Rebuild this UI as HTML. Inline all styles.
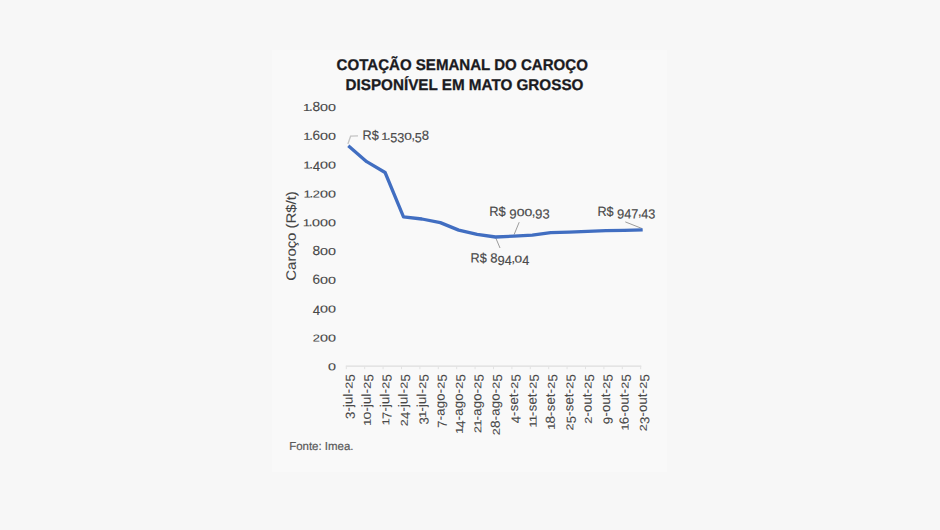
<!DOCTYPE html>
<html lang="pt-BR"><head><meta charset="utf-8"><title>Cotação semanal do caroço</title>
<style>
html,body{margin:0;padding:0;background:#f7f7f7;}
body{width:940px;height:530px;overflow:hidden;font-family:"Liberation Sans",sans-serif;}
svg{display:block;font-family:"Liberation Sans",sans-serif;}
.ttl{font-weight:bold;font-size:15.5px;fill:#1b1b1f;stroke:#1b1b1f;stroke-width:0.3px;}
.ax{fill:#484848;stroke:#484848;stroke-width:0.1px;}
.dl{fill:#4a4a4a;stroke:#4a4a4a;stroke-width:0.16px;}
.yt{font-size:13.6px;fill:#434343;stroke:#434343;stroke-width:0.08px;}
.src{font-size:11.5px;fill:#5a5a5a;stroke:#5a5a5a;stroke-width:0.2px;}
</style></head><body>
<svg width="940" height="530" viewBox="0 0 940 530">
<rect x="0" y="0" width="940" height="530" fill="#f7f7f7"/>
<rect x="272" y="50" width="395" height="422" fill="#f9f9f9"/>
<text class="ttl" transform="translate(336.6,70.0) rotate(0.03)" textLength="251.3" lengthAdjust="spacingAndGlyphs">COTAÇÃO SEMANAL DO CAROÇO</text>
<text class="ttl" transform="translate(345.5,90.0) rotate(0.03)" textLength="237.9" lengthAdjust="spacingAndGlyphs">DISPONÍVEL EM MATO GROSSO</text>
<g class="ax" font-size="13.3" transform="translate(336.00,370.20) rotate(0.03) translate(-7.98,0) scale(1.0000,1)"><text font-size="10.11" transform="translate(0.00,0) scale(1.4195,1)">0</text></g>
<g class="ax" font-size="13.3" transform="translate(336.00,341.40) rotate(0.03) translate(-23.14,0) scale(1.0000,1)"><text font-size="10.11" transform="translate(0.00,0) scale(1.2776,1)">2</text><text font-size="10.11" transform="translate(7.18,0) scale(1.4195,1)">0</text><text font-size="10.11" transform="translate(15.16,0) scale(1.4195,1)">0</text></g>
<g class="ax" font-size="13.3" transform="translate(336.00,312.60) rotate(0.03) translate(-23.36,0) scale(1.0000,1)"><text transform="translate(0.00,2.46) scale(1.0000,1)">4</text><text font-size="10.11" transform="translate(7.40,0) scale(1.4195,1)">0</text><text font-size="10.11" transform="translate(15.38,0) scale(1.4195,1)">0</text></g>
<g class="ax" font-size="13.3" transform="translate(336.00,283.80) rotate(0.03) translate(-23.54,0) scale(1.0000,1)"><text transform="translate(0.00,0) scale(1.0249,1)">6</text><text font-size="10.11" transform="translate(7.58,0) scale(1.4195,1)">0</text><text font-size="10.11" transform="translate(15.56,0) scale(1.4195,1)">0</text></g>
<g class="ax" font-size="13.3" transform="translate(336.00,255.00) rotate(0.03) translate(-23.61,0) scale(1.0000,1)"><text transform="translate(0.00,0) scale(1.0339,1)">8</text><text font-size="10.11" transform="translate(7.65,0) scale(1.4195,1)">0</text><text font-size="10.11" transform="translate(15.63,0) scale(1.4195,1)">0</text></g>
<g class="ax" font-size="13.3" transform="translate(336.00,226.20) rotate(0.03) translate(-32.19,0) scale(1.0000,1)"><text font-size="10.11" transform="translate(-1.04,0) scale(1.3158,1)">1</text><text transform="translate(4.94,0) scale(1.0000,1)">.</text><text font-size="10.11" transform="translate(8.25,0) scale(1.4195,1)">0</text><text font-size="10.11" transform="translate(16.23,0) scale(1.4195,1)">0</text><text font-size="10.11" transform="translate(24.21,0) scale(1.4195,1)">0</text></g>
<g class="ax" font-size="13.3" transform="translate(336.00,197.40) rotate(0.03) translate(-31.39,0) scale(1.0000,1)"><text font-size="10.11" transform="translate(-1.04,0) scale(1.3158,1)">1</text><text transform="translate(4.94,0) scale(1.0000,1)">.</text><text font-size="10.11" transform="translate(8.25,0) scale(1.2776,1)">2</text><text font-size="10.11" transform="translate(15.43,0) scale(1.4195,1)">0</text><text font-size="10.11" transform="translate(23.41,0) scale(1.4195,1)">0</text></g>
<g class="ax" font-size="13.3" transform="translate(336.00,168.60) rotate(0.03) translate(-31.60,0) scale(1.0000,1)"><text font-size="10.11" transform="translate(-1.04,0) scale(1.3158,1)">1</text><text transform="translate(4.94,0) scale(1.0000,1)">.</text><text transform="translate(8.25,2.46) scale(1.0000,1)">4</text><text font-size="10.11" transform="translate(15.64,0) scale(1.4195,1)">0</text><text font-size="10.11" transform="translate(23.62,0) scale(1.4195,1)">0</text></g>
<g class="ax" font-size="13.3" transform="translate(336.00,139.80) rotate(0.03) translate(-31.79,0) scale(1.0000,1)"><text font-size="10.11" transform="translate(-1.04,0) scale(1.3158,1)">1</text><text transform="translate(4.94,0) scale(1.0000,1)">.</text><text transform="translate(8.25,0) scale(1.0249,1)">6</text><text font-size="10.11" transform="translate(15.83,0) scale(1.4195,1)">0</text><text font-size="10.11" transform="translate(23.81,0) scale(1.4195,1)">0</text></g>
<g class="ax" font-size="13.3" transform="translate(336.00,111.00) rotate(0.03) translate(-31.85,0) scale(1.0000,1)"><text font-size="10.11" transform="translate(-1.04,0) scale(1.3158,1)">1</text><text transform="translate(4.94,0) scale(1.0000,1)">.</text><text transform="translate(8.25,0) scale(1.0339,1)">8</text><text font-size="10.11" transform="translate(15.89,0) scale(1.4195,1)">0</text><text font-size="10.11" transform="translate(23.87,0) scale(1.4195,1)">0</text></g>
<line x1="345.8" y1="366.2" x2="641.3" y2="366.2" stroke="#dddddd" stroke-width="1.2"/>
<line x1="346.3" y1="366.2" x2="346.3" y2="369.2" stroke="#e2e2e2" stroke-width="1"/>
<line x1="364.7" y1="366.2" x2="364.7" y2="369.2" stroke="#e2e2e2" stroke-width="1"/>
<line x1="383.1" y1="366.2" x2="383.1" y2="369.2" stroke="#e2e2e2" stroke-width="1"/>
<line x1="401.5" y1="366.2" x2="401.5" y2="369.2" stroke="#e2e2e2" stroke-width="1"/>
<line x1="419.9" y1="366.2" x2="419.9" y2="369.2" stroke="#e2e2e2" stroke-width="1"/>
<line x1="438.3" y1="366.2" x2="438.3" y2="369.2" stroke="#e2e2e2" stroke-width="1"/>
<line x1="456.7" y1="366.2" x2="456.7" y2="369.2" stroke="#e2e2e2" stroke-width="1"/>
<line x1="475.1" y1="366.2" x2="475.1" y2="369.2" stroke="#e2e2e2" stroke-width="1"/>
<line x1="493.5" y1="366.2" x2="493.5" y2="369.2" stroke="#e2e2e2" stroke-width="1"/>
<line x1="511.9" y1="366.2" x2="511.9" y2="369.2" stroke="#e2e2e2" stroke-width="1"/>
<line x1="530.3" y1="366.2" x2="530.3" y2="369.2" stroke="#e2e2e2" stroke-width="1"/>
<line x1="548.7" y1="366.2" x2="548.7" y2="369.2" stroke="#e2e2e2" stroke-width="1"/>
<line x1="567.1" y1="366.2" x2="567.1" y2="369.2" stroke="#e2e2e2" stroke-width="1"/>
<line x1="585.5" y1="366.2" x2="585.5" y2="369.2" stroke="#e2e2e2" stroke-width="1"/>
<line x1="603.9" y1="366.2" x2="603.9" y2="369.2" stroke="#e2e2e2" stroke-width="1"/>
<line x1="622.3" y1="366.2" x2="622.3" y2="369.2" stroke="#e2e2e2" stroke-width="1"/>
<line x1="640.7" y1="366.2" x2="640.7" y2="369.2" stroke="#e2e2e2" stroke-width="1"/>
<g class="ax" font-size="13" transform="translate(352.40,374.30) rotate(-90.03) translate(-44.68,0) scale(1.0000,1)"><text transform="translate(0.00,2.40) scale(1.0000,1)">3</text><text x="7.45" y="0" letter-spacing="0.22">-jul-</text><text font-size="9.88" transform="translate(30.21,0) scale(1.2776,1)">2</text><text transform="translate(37.45,2.40) scale(1.0000,1)">5</text></g>
<g class="ax" font-size="13" transform="translate(370.80,374.30) rotate(-90.03) translate(-50.67,0) scale(1.0000,1)"><text font-size="9.88" transform="translate(-1.02,0) scale(1.3158,1)">1</text><text font-size="9.88" transform="translate(5.42,0) scale(1.4195,1)">0</text><text x="13.44" y="0" letter-spacing="0.22">-jul-</text><text font-size="9.88" transform="translate(36.20,0) scale(1.2776,1)">2</text><text transform="translate(43.44,2.40) scale(1.0000,1)">5</text></g>
<g class="ax" font-size="13" transform="translate(389.20,374.30) rotate(-90.03) translate(-50.10,0) scale(1.0000,1)"><text font-size="9.88" transform="translate(-1.02,0) scale(1.3158,1)">1</text><text transform="translate(5.42,2.40) scale(1.0000,1)">7</text><text x="12.87" y="0" letter-spacing="0.22">-jul-</text><text font-size="9.88" transform="translate(35.63,0) scale(1.2776,1)">2</text><text transform="translate(42.87,2.40) scale(1.0000,1)">5</text></g>
<g class="ax" font-size="13" transform="translate(407.60,374.30) rotate(-90.03) translate(-51.92,0) scale(1.0000,1)"><text font-size="9.88" transform="translate(0.00,0) scale(1.2776,1)">2</text><text transform="translate(7.24,2.40) scale(1.0000,1)">4</text><text x="14.69" y="0" letter-spacing="0.22">-jul-</text><text font-size="9.88" transform="translate(37.45,0) scale(1.2776,1)">2</text><text transform="translate(44.69,2.40) scale(1.0000,1)">5</text></g>
<g class="ax" font-size="13" transform="translate(426.00,374.30) rotate(-90.03) translate(-50.10,0) scale(1.0000,1)"><text transform="translate(0.00,2.40) scale(1.0000,1)">3</text><text font-size="9.88" transform="translate(6.44,0) scale(1.3158,1)">1</text><text x="12.87" y="0" letter-spacing="0.22">-jul-</text><text font-size="9.88" transform="translate(35.63,0) scale(1.2776,1)">2</text><text transform="translate(42.87,2.40) scale(1.0000,1)">5</text></g>
<g class="ax" font-size="13" transform="translate(444.40,374.30) rotate(-90.03) translate(-53.37,0) scale(1.0000,1)"><text transform="translate(0.00,2.40) scale(1.0000,1)">7</text><text x="7.45" y="0" letter-spacing="0.22">-ago-</text><text font-size="9.88" transform="translate(38.90,0) scale(1.2776,1)">2</text><text transform="translate(46.14,2.40) scale(1.0000,1)">5</text></g>
<g class="ax" font-size="13" transform="translate(462.80,374.30) rotate(-90.03) translate(-58.79,0) scale(1.0000,1)"><text font-size="9.88" transform="translate(-1.02,0) scale(1.3158,1)">1</text><text transform="translate(5.42,2.40) scale(1.0000,1)">4</text><text x="12.87" y="0" letter-spacing="0.22">-ago-</text><text font-size="9.88" transform="translate(44.32,0) scale(1.2776,1)">2</text><text transform="translate(51.56,2.40) scale(1.0000,1)">5</text></g>
<g class="ax" font-size="13" transform="translate(481.20,374.30) rotate(-90.03) translate(-58.58,0) scale(1.0000,1)"><text font-size="9.88" transform="translate(0.00,0) scale(1.2776,1)">2</text><text font-size="9.88" transform="translate(6.22,0) scale(1.3158,1)">1</text><text x="12.66" y="0" letter-spacing="0.22">-ago-</text><text font-size="9.88" transform="translate(44.11,0) scale(1.2776,1)">2</text><text transform="translate(51.35,2.40) scale(1.0000,1)">5</text></g>
<g class="ax" font-size="13" transform="translate(499.60,374.30) rotate(-90.03) translate(-60.85,0) scale(1.0000,1)"><text font-size="9.88" transform="translate(0.00,0) scale(1.2776,1)">2</text><text transform="translate(7.24,0) scale(1.0339,1)">8</text><text x="14.93" y="0" letter-spacing="0.22">-ago-</text><text font-size="9.88" transform="translate(46.38,0) scale(1.2776,1)">2</text><text transform="translate(53.62,2.40) scale(1.0000,1)">5</text></g>
<g class="ax" font-size="13" transform="translate(518.00,374.30) rotate(-90.03) translate(-49.02,0) scale(1.0000,1)"><text transform="translate(0.00,2.40) scale(1.0000,1)">4</text><text x="7.45" y="0" letter-spacing="0.22">-set-</text><text font-size="9.88" transform="translate(34.55,0) scale(1.2776,1)">2</text><text transform="translate(41.79,2.40) scale(1.0000,1)">5</text></g>
<g class="ax" font-size="13" transform="translate(536.40,374.30) rotate(-90.03) translate(-52.41,0) scale(1.0000,1)"><text font-size="9.88" transform="translate(-1.02,0) scale(1.3158,1)">1</text><text font-size="9.88" transform="translate(4.40,0) scale(1.3158,1)">1</text><text x="10.84" y="0" letter-spacing="0.22">-set-</text><text font-size="9.88" transform="translate(37.94,0) scale(1.2776,1)">2</text><text transform="translate(45.18,2.40) scale(1.0000,1)">5</text></g>
<g class="ax" font-size="13" transform="translate(554.80,374.30) rotate(-90.03) translate(-54.69,0) scale(1.0000,1)"><text font-size="9.88" transform="translate(-1.02,0) scale(1.3158,1)">1</text><text transform="translate(5.42,0) scale(1.0339,1)">8</text><text x="13.11" y="0" letter-spacing="0.22">-set-</text><text font-size="9.88" transform="translate(40.22,0) scale(1.2776,1)">2</text><text transform="translate(47.46,2.40) scale(1.0000,1)">5</text></g>
<g class="ax" font-size="13" transform="translate(573.20,374.30) rotate(-90.03) translate(-56.26,0) scale(1.0000,1)"><text font-size="9.88" transform="translate(0.00,0) scale(1.2776,1)">2</text><text transform="translate(7.24,2.40) scale(1.0000,1)">5</text><text x="14.69" y="0" letter-spacing="0.22">-set-</text><text font-size="9.88" transform="translate(41.79,0) scale(1.2776,1)">2</text><text transform="translate(49.03,2.40) scale(1.0000,1)">5</text></g>
<g class="ax" font-size="13" transform="translate(591.60,374.30) rotate(-90.03) translate(-49.54,0) scale(1.0000,1)"><text font-size="9.88" transform="translate(0.00,0) scale(1.2776,1)">2</text><text x="7.24" y="0" letter-spacing="0.22">-out-</text><text font-size="9.88" transform="translate(35.07,0) scale(1.2776,1)">2</text><text transform="translate(42.31,2.40) scale(1.0000,1)">5</text></g>
<g class="ax" font-size="13" transform="translate(610.00,374.30) rotate(-90.03) translate(-49.93,0) scale(1.0000,1)"><text transform="translate(0.00,2.40) scale(1.0249,1)">9</text><text x="7.63" y="0" letter-spacing="0.22">-out-</text><text font-size="9.88" transform="translate(35.46,0) scale(1.2776,1)">2</text><text transform="translate(42.70,2.40) scale(1.0000,1)">5</text></g>
<g class="ax" font-size="13" transform="translate(628.40,374.30) rotate(-90.03) translate(-55.35,0) scale(1.0000,1)"><text font-size="9.88" transform="translate(-1.02,0) scale(1.3158,1)">1</text><text transform="translate(5.42,0) scale(1.0249,1)">6</text><text x="13.05" y="0" letter-spacing="0.22">-out-</text><text font-size="9.88" transform="translate(40.88,0) scale(1.2776,1)">2</text><text transform="translate(48.12,2.40) scale(1.0000,1)">5</text></g>
<g class="ax" font-size="13" transform="translate(646.80,374.30) rotate(-90.03) translate(-56.99,0) scale(1.0000,1)"><text font-size="9.88" transform="translate(0.00,0) scale(1.2776,1)">2</text><text transform="translate(7.24,2.40) scale(1.0000,1)">3</text><text x="14.69" y="0" letter-spacing="0.22">-out-</text><text font-size="9.88" transform="translate(42.52,0) scale(1.2776,1)">2</text><text transform="translate(49.76,2.40) scale(1.0000,1)">5</text></g>
<text class="yt" transform="translate(295.7,235.9) rotate(-90.03)" text-anchor="middle" textLength="89.5" lengthAdjust="spacingAndGlyphs">Caroço (R$/t)</text>
<polyline points="347.9,144 350.6,136.2 358,135.8" fill="none" stroke="#c4c4c4" stroke-width="1.3"/>
<line x1="495.8" y1="238" x2="500" y2="248" stroke="#9c9c9c" stroke-width="1"/>
<line x1="514.1" y1="234.6" x2="519.2" y2="222.2" stroke="#9c9c9c" stroke-width="1"/>
<line x1="642" y1="228.5" x2="625.3" y2="221.9" stroke="#9c9c9c" stroke-width="1"/>
<polyline points="348.3,145.8 366.7,161.7 385.1,172.5 403.5,216.9 421.9,219.0 440.3,222.6 458.7,230.1 477.1,234.4 495.5,237.0 513.9,236.2 532.3,235.2 550.7,232.7 569.1,232.1 587.5,231.3 605.9,230.7 624.3,230.3 642.7,229.8" fill="none" stroke="#416ec1" stroke-width="3.3" stroke-linejoin="round" stroke-linecap="butt"/>
<g class="dl" font-size="13.3" transform="translate(362.60,139.70) rotate(0.03) translate(0.00,0) scale(0.9528,1)"><text x="0.00" y="0">R$ </text><text font-size="10.11" transform="translate(19.66,0) scale(1.3158,1)">1</text><text transform="translate(25.63,0) scale(1.0000,1)">.</text><text transform="translate(28.94,2.46) scale(1.0000,1)">5</text><text transform="translate(36.34,2.46) scale(1.0000,1)">3</text><text font-size="10.11" transform="translate(43.74,0) scale(1.4195,1)">0</text><text transform="translate(51.33,0) scale(1.0000,1)">,</text><text transform="translate(54.64,2.46) scale(1.0000,1)">5</text><text transform="translate(62.04,0) scale(1.0339,1)">8</text></g>
<g class="dl" font-size="13.3" transform="translate(489.20,216.10) rotate(0.03) translate(0.00,0) scale(0.9720,1)"><text x="0.00" y="0">R$ </text><text transform="translate(20.70,2.46) scale(1.0249,1)">9</text><text font-size="10.11" transform="translate(28.28,0) scale(1.4195,1)">0</text><text font-size="10.11" transform="translate(36.26,0) scale(1.4195,1)">0</text><text transform="translate(43.85,0) scale(1.0000,1)">,</text><text transform="translate(47.16,2.46) scale(1.0249,1)">9</text><text transform="translate(54.74,2.46) scale(1.0000,1)">3</text></g>
<g class="dl" font-size="13.3" transform="translate(597.40,216.10) rotate(0.03) translate(0.00,0) scale(0.9524,1)"><text x="0.00" y="0">R$ </text><text transform="translate(20.70,2.46) scale(1.0249,1)">9</text><text transform="translate(28.28,2.46) scale(1.0000,1)">4</text><text transform="translate(35.67,2.46) scale(1.0000,1)">7</text><text transform="translate(42.69,0) scale(1.0000,1)">,</text><text transform="translate(46.00,2.46) scale(1.0000,1)">4</text><text transform="translate(53.39,2.46) scale(1.0000,1)">3</text></g>
<g class="dl" font-size="13.3" transform="translate(470.60,262.50) rotate(0.03) translate(0.00,0) scale(0.9509,1)"><text x="0.00" y="0">R$ </text><text transform="translate(20.70,0) scale(1.0339,1)">8</text><text transform="translate(28.34,2.46) scale(1.0249,1)">9</text><text transform="translate(35.93,2.46) scale(1.0000,1)">4</text><text transform="translate(42.94,0) scale(1.0000,1)">,</text><text font-size="10.11" transform="translate(46.25,0) scale(1.4195,1)">0</text><text transform="translate(54.23,2.46) scale(1.0000,1)">4</text></g>
<text class="src" transform="translate(289.2,450) rotate(0.03)" textLength="64.3" lengthAdjust="spacingAndGlyphs">Fonte: Imea.</text>
</svg></body></html>
